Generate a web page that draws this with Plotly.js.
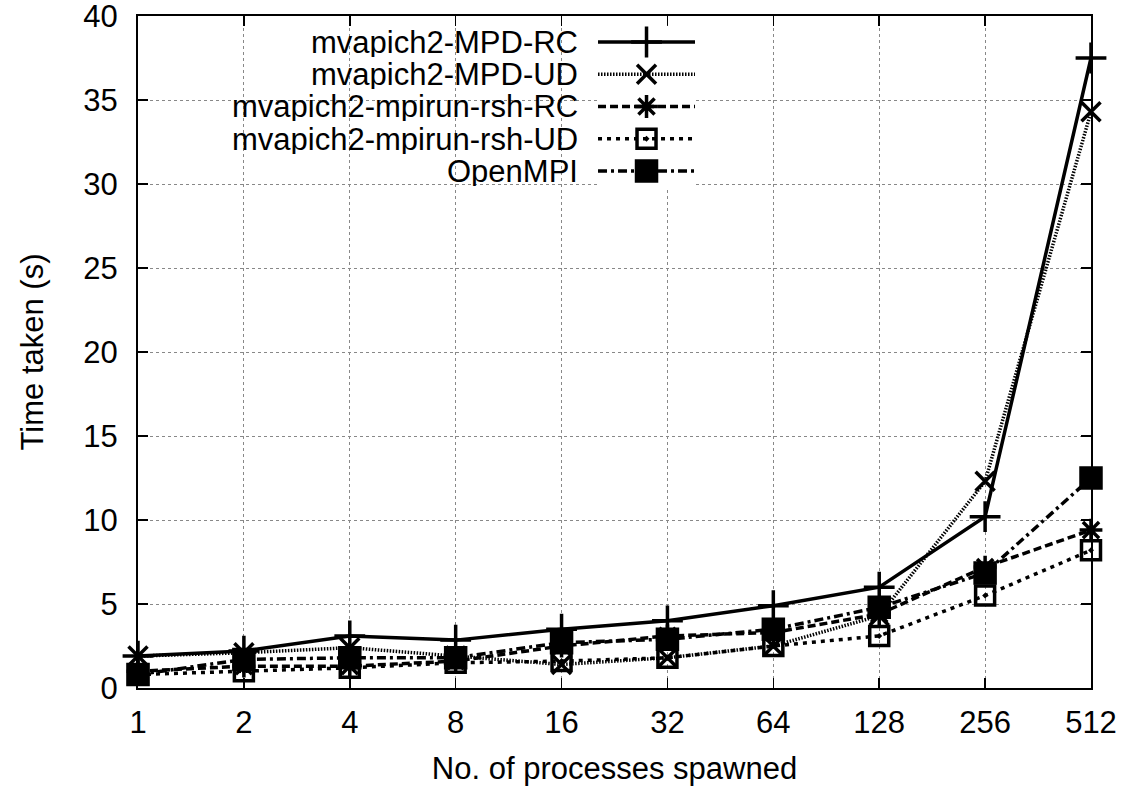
<!DOCTYPE html>
<html>
<head>
<meta charset="utf-8">
<script src="https://cdn.plot.ly/plotly-3.0.1.min.js"></script>
<style>html,body{margin:0;padding:0;background:#fff;}#chart{width:1135px;height:788px;}</style>
</head>
<body>
<div id="chart"></div>
<script>
// Data
var processes = ["1", "2", "4", "8", "16", "32", "64", "128", "256", "512"];
var seriesNames = ["mvapich2-MPD-RC", "mvapich2-MPD-UD", "mvapich2-mpirun-rsh-RC", "mvapich2-mpirun-rsh-UD", "OpenMPI"];
var mpdRC     = [1.9, 2.2, 3.1, 2.85, 3.5, 4.0, 4.9, 6.0, 10.2, 37.5];
var mpdUD     = [1.9, 2.1, 2.4, 1.9, 1.4, 1.8, 2.5, 4.3, 12.3, 34.3];
var rshRC     = [1.0, 1.3, 1.3, 1.6, 2.5, 3.1, 3.3, 4.4, 7.2, 9.4];
var rshUD     = [0.8, 1.0, 1.2, 1.5, 1.6, 1.8, 2.5, 3.1, 5.5, 8.2];
var openMPI   = [0.8, 1.7, 1.8, 1.8, 2.7, 2.9, 3.5, 4.8, 6.85, 12.5];

var values = [mpdRC, mpdUD, rshRC, rshUD, openMPI];
var dashes = ["solid", "1.5px,1.5px", "8px,4px", "4px,5px", "9px,4px,3px,4px"];
var symbols = ["cross-thin-open", "x-thin-open", "asterisk-open", "square-open-dot", "square"];
var sizes = [22, 19, 19, 19, 20];

function lineStyle(i) { return {color: "#000", width: 3.5, dash: dashes[i]}; }
function markerStyle(i) {
  return {symbol: symbols[i], size: sizes[i], color: "#000", line: {color: "#000", width: 3.5}};
}

var traces = values.map(function (v, i) {
  return {
    type: "scatter", mode: "lines+markers", name: seriesNames[i],
    x: processes, y: v, cliponaxis: false, showlegend: false,
    line: lineStyle(i), marker: markerStyle(i)
  };
});

var fam = "Liberation Sans, Arial, Helvetica, sans-serif";

// gnuplot-style key: text on the left, sample on the right (own small axes)
var annotations = [];
seriesNames.forEach(function (name, i) {
  traces.push({type: "scatter", mode: "lines", x: [0, 1], y: [i, i],
               xaxis: "x2", yaxis: "y2", showlegend: false, hoverinfo: "skip",
               cliponaxis: false, line: lineStyle(i)});
  traces.push({type: "scatter", mode: "markers", x: [0.5], y: [i],
               xaxis: "x2", yaxis: "y2", showlegend: false, hoverinfo: "skip",
               cliponaxis: false, marker: markerStyle(i)});
  annotations.push({text: name, xref: "paper", yref: "y2", x: 0.4625, y: i,
                    xanchor: "right", yanchor: "middle", showarrow: false,
                    height: 30, borderpad: 0,
                    font: {family: fam, size: 31, color: "#000"}});
});

var tickFont = {family: fam, size: 31, color: "#000"};
var titleFont = {family: fam, size: 31, color: "#000"};

var axisCommon = {
  showline: true, linecolor: "#000", linewidth: 2, mirror: "ticks",
  ticks: "inside", ticklen: 10, tickwidth: 1.5, tickcolor: "#000",
  showgrid: true, gridcolor: "#888", griddash: "dot", gridwidth: 1,
  zeroline: false, tickfont: tickFont, ticklabeloverflow: "allow"
};

var layout = {
  width: 1135, height: 788,
  paper_bgcolor: "#fff", plot_bgcolor: "#fff",
  margin: {l: 138, r: 44, t: 16, b: 100},
  font: tickFont,
  showlegend: false,
  annotations: annotations,
  xaxis: Object.assign({}, axisCommon, {
    type: "category", range: [0, 9], ticklabelstandoff: 6,
    title: {text: "No. of processes spawned", font: titleFont, standoff: 18}
  }),
  yaxis: Object.assign({}, axisCommon, {
    range: [0, 40], dtick: 5, tick0: 0, ticklabelstandoff: 12,
    title: {text: "Time taken (s)", font: titleFont, standoff: 30}
  }),
  xaxis2: {domain: [0.4827, 0.5845], range: [0, 1], anchor: "y2", visible: false, fixedrange: true},
  yaxis2: {domain: [0.7454, 0.9853], range: [4.5, -0.5], anchor: "x2", visible: false, fixedrange: true}
};

Plotly.newPlot("chart", traces, layout, {staticPlot: true, displayModeBar: false});
</script>
</body>
</html>
